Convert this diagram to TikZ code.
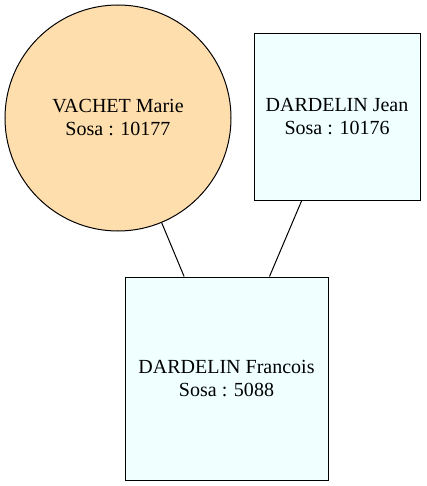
\documentclass[tikz,border=0pt]{standalone}
\usepackage{fontspec}
\setmainfont{Liberation Serif}
\definecolor{navajo}{HTML}{FFDEAD}
\definecolor{azurefill}{HTML}{F0FFFF}
\begin{document}
\begin{tikzpicture}[x=1pt,y=-1pt,
  person/.style={draw=black,line width=1pt,inner sep=0pt,align=center,font=\fontsize{20}{23}\selectfont},
  female/.style={person,circle,fill=navajo,minimum size=226pt},
  male/.style={person,rectangle,fill=azurefill},
  link/.style={draw=black,line width=1pt}]
\useasboundingbox (0,0) rectangle (426,486);
\node[female] (m) at (118,118) {VACHET Marie\\Sosa : 10177};
\node[male,minimum width=166pt,minimum height=166pt] (j) at (337,117) {DARDELIN Jean\\Sosa : 10176};
\node[male,minimum width=203pt,minimum height=203pt] (f) at (226.5,378.5) {DARDELIN Francois\\Sosa : 5088};
\draw[link] (m) -- (f);
\draw[link] (j) -- (f);
\end{tikzpicture}
\end{document}
